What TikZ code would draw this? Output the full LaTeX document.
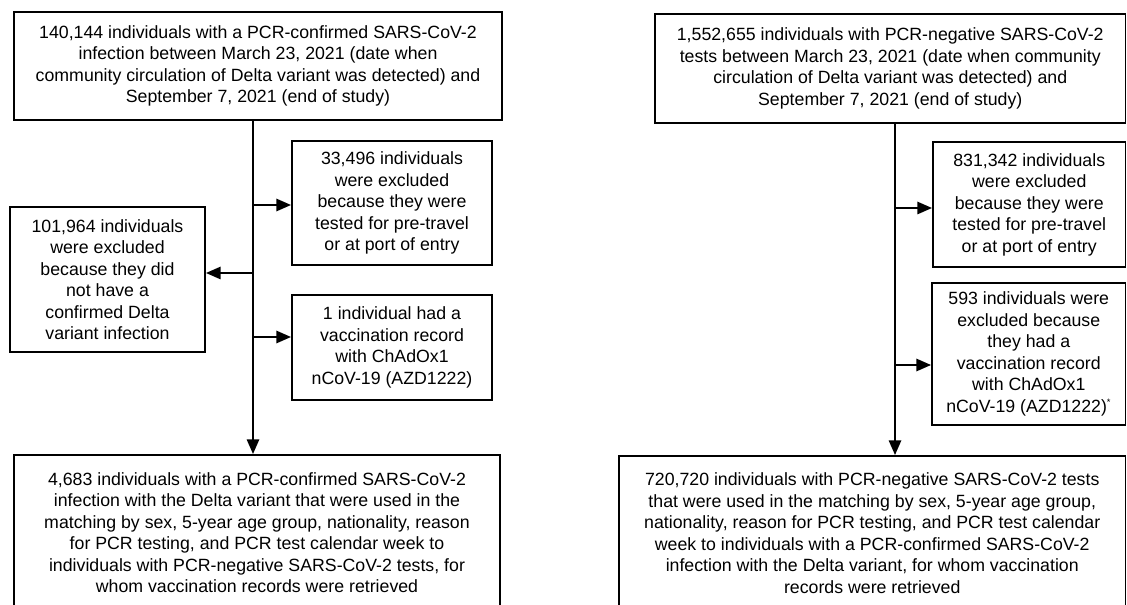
\documentclass[tikz,border=0pt]{standalone}
\usepackage{fontspec}
\setmainfont{Liberation Sans}
\usepackage{tikz}
\usetikzlibrary{positioning, arrows.meta}

\begin{document}
\begin{tikzpicture}[x=0.75pt, y=-0.75pt, >={Triangle[length=11pt,width=9pt]},
    box/.style={draw, line width=1.3pt, align=center, inner sep=2pt,
        font=\fontsize{13.3}{16.1}\selectfont},
    flow/.style={line width=1.9pt}]
        \useasboundingbox (0,0) rectangle (1127,605);

        % Nodes
        \node (top1) [box, minimum width=366pt, minimum height=81pt] at (258,66)
            {140,144 individuals with a PCR-confirmed SARS-CoV-2\\
             infection between March 23, 2021 (date when\\
             community circulation of Delta variant was detected) and\\
             September 7, 2021 (end of study)};
        \node (ex1a) [box, minimum width=150pt, minimum height=93pt] at (392,203)
            {33,496 individuals\\ were excluded\\ because they were\\
             tested for pre-travel\\ or at port of entry};
        \node (ex1b) [box, minimum width=150pt, minimum height=78.75pt] at (392,347.5)
            {1 individual had a\\ vaccination record\\ with ChAdOx1\\
             nCoV-19 (AZD1222)};
        \node (exl) [box, minimum width=146.25pt, minimum height=108.75pt] at (107.5,279.5)
            {101,964 individuals\\ were excluded\\ because they did\\
             not have a\\ confirmed Delta\\ variant infection};
        \node (bot1) [box, minimum width=364.5pt, minimum height=116.25pt] at (257,532.5)
            {4,683 individuals with a PCR-confirmed SARS-CoV-2\\
             infection with the Delta variant that were used in the\\
             matching by sex, 5-year age group, nationality, reason\\
             for PCR testing, and PCR test calendar week to\\
             individuals with PCR-negative SARS-CoV-2 tests, for\\
             whom vaccination records were retrieved};

        \node (top2) [box, minimum width=353pt, minimum height=81.75pt] at (890.25,68.5)
            {1,552,655 individuals with PCR-negative SARS-CoV-2\\
             tests between March 23, 2021 (date when community\\
             circulation of Delta variant was detected) and\\
             September 7, 2021 (end of study)};
        \node (ex2a) [box, minimum width=144.4pt, minimum height=93.75pt] at (1029.25,204.5)
            {831,342 individuals\\ were excluded\\ because they were\\
             tested for pre-travel\\ or at port of entry};
        \node (ex2b) [box, minimum width=145.1pt, minimum height=106.5pt] at (1028.75,354)
            {593 individuals were\\ excluded because\\ they had a\\
             vaccination record\\ with ChAdOx1\\
             nCoV-19 (AZD1222)\textsuperscript{\scriptsize*}};
        \node (bot2) [box, minimum width=379.9pt, minimum height=115.5pt] at (872.25,533)
            {720,720 individuals with PCR-negative SARS-CoV-2 tests\\
             that were used in the matching by sex, 5-year age group,\\
             nationality, reason for PCR testing, and PCR test calendar\\
             week to individuals with a PCR-confirmed SARS-CoV-2\\
             infection with the Delta variant, for whom vaccination\\
             records were retrieved};

        % Branch points
        \coordinate (l0) at (253,120);
        \coordinate (l1) at (253,205);
        \coordinate (l2) at (253,273);
        \coordinate (l3) at (253,337);
        \coordinate (r0) at (895,123);
        \coordinate (r1) at (895,208);
        \coordinate (r2) at (895,365);

        % Arrows
        \draw[flow, ->] (top1.south -| l0) -- (bot1.north -| l0);
        \draw[flow, ->] (l1) -- (l1 -| ex1a.west);
        \draw[flow, ->] (l2) -- (l2 -| exl.east);
        \draw[flow, ->] (l3) -- (l3 -| ex1b.west);
        \draw[flow, ->] (top2.south -| r0) -- (bot2.north -| r0);
        \draw[flow, ->] (r1) -- (r1 -| ex2a.west);
        \draw[flow, ->] (r2) -- (r2 -| ex2b.west);

    \end{tikzpicture}
\end{document}
